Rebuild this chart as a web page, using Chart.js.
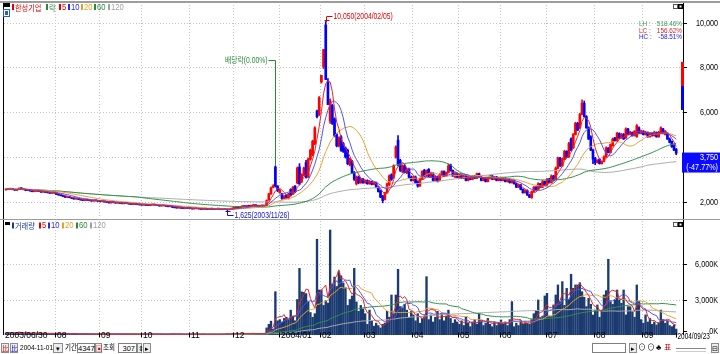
<!DOCTYPE html>
<html>
<head>
<meta charset="utf-8">
<script src="https://cdn.jsdelivr.net/npm/chart.js@4.4.1/dist/chart.umd.min.js"></script>
<style>
  body { margin: 0; width: 720px; height: 354px; overflow: hidden; position: relative; background: #fff;
         font-family: "Liberation Sans", "Noto Sans CJK KR", sans-serif; }
  canvas { position: absolute; left: 0; }
  #price { top: 0; }
  #volume { top: 220px; }
  #bar { position: absolute; left: 0; top: 343px; width: 720px; height: 11px; font-size: 8px; color: #000; }
  #bar span { position: absolute; top: 0; height: 10px; line-height: 10px; white-space: nowrap; }
  #bar .t { transform: scaleX(0.82); transform-origin: left center; }
  #bar .box { border: 1px solid #7f7f7f; background: #fff; box-sizing: border-box; text-align: right; padding-right: 1px; font-size: 7.5px; }
  #bar .btn { border: 1px solid #8c8c8c; background: #ececec; box-sizing: border-box; text-align: center; font-size: 6.5px; }
</style>
</head>
<body>
<canvas id="price" width="720" height="220"></canvas>
<canvas id="volume" width="720" height="125"></canvas>
<div id="bar">
  <span class="btn" style="left:1px;width:8px;color:#c00">比</span>
  <span class="btn" style="left:10px;width:8px;color:#00c">比</span>
  <span class="t" style="left:20px">2004-11-01</span>
  <span class="btn" style="left:53px;width:10px">▾</span>
  <span class="t" style="left:65px">기간</span>
  <span class="box" style="left:77px;width:18px">4347</span>
  <span class="btn" style="left:95px;width:7px;color:#c00">▣</span>
  <span class="t" style="left:103px">조회</span>
  <span class="box" style="left:118px;width:19px">307</span>
  <span class="btn" style="left:137px;width:5px">⇕</span>
  <span class="btn" style="left:143px;width:8px">▸</span>
  <span class="box" style="left:592px;width:34px"></span>
  <span class="btn" style="left:629px;width:8px">▸</span>
  <span style="left:638px">⊙</span>
  <span style="left:647px">⊙</span>
  <span style="left:656px">♣</span>
  <span style="left:664px;color:#c00">표</span>
  <span style="left:676px;width:30px;top:5px;height:2px;border-top:1px solid #888;border-bottom:1px solid #ccc"></span>
  <span class="btn" style="left:711px;width:8px">⊟</span>
</div>
<script>
// daily candles, 2003/06/30 .. 2004/09/23 (307 sessions)
const open = [
  2530,
  2550,2560,2590,2540,2510,2550,2610,2580,2550,2500,2530,2480,2450,2470,2510,2460,2430,2450,2420,2400,2380,2410,
  2380,2330,2290,2270,2240,2200,2220,2180,2150,2120,2140,2110,2080,2060,2090,2070,2050,2030,2060,2040,
  2020,2000,2020,1990,1960,1950,1980,1960,1940,1950,1930,1910,1940,1920,1900,1880,1910,1890,1870,
  1860,1850,1870,1840,1830,1860,1880,1850,1830,1810,1840,1820,1800,1780,1800,1750,1730,1720,1740,1710,1700,1730,
  1710,1700,1680,1710,1690,1680,1660,1690,1670,1660,1690,1670,1660,1680,1670,1650,1680,1660,1640,1670,
  1700,1720,1760,1740,1780,1800,1780,1820,1800,1830,1850,1820,1800,1830,1810,1830,2080,2350,2650,3550,2700,
  2400,2350,2150,2300,2150,2550,2350,2700,2850,3550,2900,3200,3750,3100,3900,4100,4600,6050,5900,
  7350,8040,9900,7370,5600,6300,5700,5000,4500,4900,4600,4400,4300,3650,3800,3300,2800,3100,2850,3000,
  2850,2950,2800,2900,2780,2850,2650,2500,2250,2100,2400,2750,3200,3100,4000,4750,3850,3350,3600,3300,3450,3100,
  2950,3100,2900,2700,3000,3400,3150,3450,3100,3250,2950,3100,2950,3200,3350,3150,3300,3650,3400,3100,3250,
  3050,3200,3050,3150,2950,3100,3000,3150,3050,3250,3100,2950,3050,2900,3050,3150,3000,3100,2950,
  3050,2950,3050,2900,3000,2850,2950,2800,2650,2750,2550,2400,2500,2300,2180,2450,2650,2550,2800,2650,2900,
  2750,3000,2850,3150,3000,3500,3950,3600,3900,4250,4000,4800,4400,5000,5500,5300,5900,6400,5800,5300,4900,4300,
  3950,3750,3900,3700,3800,4000,4400,4200,4500,4850,4700,5050,4850,5000,4850,5250,5000,5100,4950,4900,5300,5050,
  5150,5000,5100,4900,5050,4950,5100,4900,5050,5250,5000,5050,4800,4700,4500,4350
];
const high = [
  2560,
  2580,2600,2600,2550,2560,2620,2620,2590,2560,2530,2540,2490,2480,2510,2520,2470,2460,2460,2430,2410,2420,2420,
  2390,2340,2300,2280,2250,2230,2230,2190,2160,2150,2150,2120,2090,2100,2100,2080,2060,2070,2070,2050,
  2030,2030,2030,1995,1970,1990,1990,1970,1960,1960,1940,1945,1950,1930,1910,1915,1920,1900,1880,
  1870,1880,1875,1850,1865,1890,1885,1860,1835,1850,1845,1825,1805,1820,1810,1760,1740,1750,1745,1715,1740,1735,
  1720,1705,1715,1715,1695,1685,1695,1695,1675,1695,1695,1675,1685,1685,1675,1685,1685,1665,1675,1710,
  1730,1770,1765,1785,1810,1805,1825,1825,1835,1860,1855,1825,1835,1835,1830,2080,2380,2650,2760,3600,2720,
  2560,2380,2270,2320,2380,2580,2680,2720,3550,3700,3250,3550,3850,3950,4350,4750,5350,6100,6700,
  7650,8800,10050,7500,6600,6350,5750,5050,4900,4950,4650,4450,4350,3950,3850,3350,3150,3150,3050,3050,
  2980,2980,2950,2920,2880,2880,2680,2520,2280,2420,2830,3200,3250,3650,4500,4950,3900,3650,3650,3500,3500,3150,
  3150,3150,2920,3050,3380,3450,3420,3480,3320,3300,3150,3150,3250,3380,3380,3330,3680,3680,3420,3300,3280,
  3230,3220,3180,3180,3130,3130,3180,3180,3280,3280,3120,3080,3080,3080,3180,3170,3130,3130,3080,
  3080,3080,3080,3020,3030,2980,2980,2830,2780,2780,2580,2530,2530,2330,2480,2680,2680,2850,2820,2950,2920,
  3050,3050,3200,3180,3550,4000,3980,3950,4300,4280,4650,4850,5050,5550,5550,5950,6550,6500,5850,5350,4950,4350,
  3980,3880,3920,3820,4050,4450,4420,4580,4850,4880,5100,5080,5050,5050,5300,5280,5150,5120,5180,5450,5350,5200,
  5180,5150,5120,5080,5080,5150,5120,5150,5350,5280,5180,5080,4850,4720,4550,4380
];
const low = [
  2520,
  2540,2550,2530,2500,2500,2540,2570,2530,2490,2490,2470,2440,2440,2460,2450,2420,2420,2410,2390,2370,2370,2380,
  2320,2290,2260,2230,2190,2190,2170,2140,2110,2110,2100,2070,2050,2050,2060,2040,2020,2020,2030,2010,
  1990,1990,1980,1960,1940,1940,1950,1930,1930,1920,1900,1900,1910,1890,1870,1870,1880,1860,1850,
  1840,1840,1830,1820,1820,1850,1840,1820,1800,1800,1810,1790,1770,1770,1740,1720,1710,1710,1700,1690,1690,1700,
  1690,1670,1670,1680,1670,1650,1650,1660,1650,1650,1660,1650,1650,1660,1640,1640,1650,1625,1635,1660,
  1690,1710,1730,1730,1770,1770,1770,1790,1790,1820,1810,1790,1790,1800,1800,1820,2060,2330,2620,2650,2450,
  2380,2100,2120,2150,2120,2250,2320,2400,2800,2750,2850,3150,3050,3080,3850,4050,4550,5750,5850,
  7300,7950,7460,6340,5500,5450,4900,4450,4450,4250,4200,3950,3650,3600,3250,2950,2750,2800,2820,2820,
  2820,2780,2780,2750,2750,2620,2430,2180,1950,2080,2380,2720,2950,3050,3950,3600,3350,3300,3280,3250,3050,2920,
  2920,2830,2650,2680,2980,3120,3120,3120,3080,2930,2930,2880,2930,3180,3120,3130,3280,3380,3120,3080,3080,
  3030,3030,3030,2930,2930,2980,2980,3030,3030,3080,2930,2930,2880,2880,3030,2980,2980,2930,2930,
  2930,2930,2880,2880,2830,2830,2780,2630,2630,2530,2380,2380,2280,2180,2150,2430,2530,2530,2630,2630,2730,
  2730,2830,2830,2920,2980,3480,3580,3580,3880,3980,3980,4280,4380,4980,5180,5280,5880,5780,5280,4780,4280,3700,
  3650,3730,3680,3680,3780,3980,4180,4180,4480,4680,4680,4830,4830,4780,4830,4980,4980,4930,4930,4880,5030,5030,
  4980,4980,4880,4880,4930,4930,4880,4880,5030,5030,4980,4780,4630,4430,4280,4100
];
const close = [
  2550,
  2560,2580,2540,2520,2550,2600,2580,2540,2500,2520,2480,2450,2470,2500,2460,2430,2450,2420,2400,2380,2410,2390,
  2330,2300,2270,2240,2200,2220,2180,2150,2120,2140,2110,2080,2060,2090,2070,2050,2030,2060,2040,2020,
  2000,2020,1990,1970,1950,1980,1960,1940,1950,1930,1910,1940,1920,1900,1880,1910,1890,1870,1860,
  1850,1870,1840,1830,1860,1880,1850,1830,1810,1840,1820,1800,1780,1810,1750,1730,1720,1740,1710,1700,1730,1710,
  1700,1680,1710,1690,1680,1660,1690,1670,1660,1690,1670,1660,1680,1670,1650,1680,1660,1640,1670,1700,
  1720,1760,1740,1780,1800,1780,1820,1800,1830,1850,1820,1800,1830,1810,1820,2050,2350,2620,2700,2700,2500,
  2500,2150,2250,2200,2350,2300,2650,2450,3500,2800,3200,3500,3100,3900,4300,4700,5300,5800,6650,
  7650,8800,7460,6340,6500,5500,4950,4500,4850,4300,4250,4000,3700,3900,3300,3000,3100,2850,3000,2850,
  2950,2800,2900,2780,2850,2650,2450,2200,2050,2400,2800,3150,3000,3600,4450,3700,3400,3600,3300,3450,3100,2950,
  3100,2850,2700,3000,3350,3150,3400,3150,3300,2950,3100,2900,3200,3350,3150,3300,3600,3400,3150,3250,3100,
  3200,3050,3150,2950,3100,3000,3150,3050,3250,3100,2950,3050,2900,3050,3150,3000,3100,2950,3050,
  2950,3050,2900,3000,2850,2950,2800,2650,2750,2550,2400,2500,2300,2200,2450,2650,2550,2800,2650,2900,2750,
  3000,2850,3150,2950,3500,3950,3600,3900,4250,4000,4600,4300,5000,5500,5200,5900,6400,5800,5300,4800,4300,3900,
  3750,3850,3700,3800,4000,4400,4200,4550,4800,4700,5050,4850,5000,4800,5250,5000,5100,4950,5150,5400,5050,5150,
  5000,5100,4900,5050,4950,5100,4900,5100,5300,5050,5150,4800,4650,4450,4300,4170
];
// volume in thousands of shares
const volume = [
  180,150,220,130,110,160,250,140,100,120,150,110,90,130,170,120,100,90,130,110,100,140,120,
  160,120,110,90,140,100,80,90,110,120,80,70,90,110,80,70,60,90,70,80,
  90,110,70,80,60,70,90,60,50,70,80,60,90,70,60,50,80,60,70,
  60,80,70,50,90,110,70,60,50,80,60,50,70,90,120,80,60,50,70,60,50,80,
  70,60,90,70,50,60,80,60,50,70,60,50,70,60,80,70,60,140,90,110,
  120,140,100,130,150,110,140,100,120,150,110,90,120,100,150,600,900,1170,500,3660,1200,
  1300,1100,1400,1500,1300,2100,1600,1200,3000,5630,3650,3600,3500,2800,1900,1500,1800,8090,3800,
  3800,2500,2900,2700,8870,4300,4900,4100,5350,5000,4400,4000,2500,3000,3300,5630,2800,2000,2500,2200,
  1800,900,2100,1200,750,1000,800,600,900,1000,2000,1500,3380,1800,3380,5550,2400,2300,2600,2100,1500,2000,
  1700,1200,1800,1000,1400,1600,4930,1300,1700,1100,1500,2000,1300,1800,1200,1600,2100,1400,1000,1300,1100,
  900,1200,800,1500,1000,700,1100,1300,900,1800,1200,800,1000,1400,900,700,1100,800,1000,
  1270,900,1100,800,1300,2820,700,1000,800,1200,900,1100,1000,900,1300,1800,2000,2960,1500,1600,3300,
  3520,1600,1550,2540,3380,4230,2820,4510,2500,3940,3000,5130,3940,4230,4230,4420,3660,3190,2400,3100,2600,1690,
  2100,2540,1500,2100,3380,3750,6400,2820,2600,2960,3800,2960,2680,3800,1700,2400,2390,1970,1500,4230,2820,1300,
  1000,1700,1100,1400,900,1100,850,1000,2110,1300,1000,1200,800,700,850,500
];

const maPeriods = [5, 10, 20, 60, 120];
const maColors = ['#e02828', '#5454e8', '#eaa035', '#2f9148', '#ababab'];

const monthStarts = [23, 43, 62, 84, 104, 125, 144, 164, 186, 207, 226, 247, 269, 291];
const monthLabels = ['08', '09', '10', '11', '12', '2004/01', '02', '03', '04', '05', '06', '07', '08', '09'];
const firstDate = '2003/06/30';
const lastDate = '2004/09/23';

const priceTicks = [2000, 4000, 6000, 8000, 10000];
const volumeTicks = [0, 3000, 6000];

const peak = { idx: 146, value: 10050, text: '10,050(2004/02/05)' };
const bottom = { idx: 101, value: 1625, text: '1,625(2003/11/26)' };
const exDiv = { idx: 123, text: '배당락(0.00%)' };
const rangeStats = [['LH', '518.46%', '#3d9a5c'], ['LC', '156.62%', '#e02020'], ['HC', '-58.51%', '#1c1ce0']];
const lastBox = { value: 3750, lines: ['3,750', '(-47.77%)'] };
const sideBar = [8250, 7170, 6100];

const UP = '#ff0000';
const DOWN = '#0000ff';
const GRID = '#c4c4c4';
const NUM_FONT = '8.5px "Liberation Sans", "Noto Sans CJK KR", sans-serif';
const SMALL_FONT = '7.5px "Liberation Sans", sans-serif';
const CJK_FONT = '8px "Noto Sans CJK KR", sans-serif';
const X_MIN = -0.9;
const X_MAX = 309.1;

function movingAverage(values, period) {
  return values.map((_, i) => {
    const start = Math.max(0, i - period + 1);
    const win = values.slice(start, i + 1);
    return win.reduce((a, b) => a + b, 0) / win.length;
  });
}

function maDatasets(values) {
  return maPeriods.map((p, k) => ({
    type: 'line',
    data: movingAverage(values, p).map((v, i) => ({ x: i, y: v })),
    borderColor: maColors[k],
    borderWidth: 1,
    pointRadius: 0,
    tension: 0,
    order: 0,
  }));
}

function line(ctx, x1, y1, x2, y2) {
  ctx.beginPath();
  ctx.moveTo(x1, y1);
  ctx.lineTo(x2, y2);
  ctx.stroke();
}

// the HTS font is a narrow bitmap face, so squeeze text horizontally
function text(ctx, str, x, y, align, sx) {
  ctx.save();
  ctx.translate(x, y);
  ctx.scale(sx || 1, 1);
  ctx.textAlign = align;
  ctx.fillText(str, 0, 0);
  ctx.restore();
}

function drawLegend(ctx, items, y) {
  items.forEach(([str, color, x, font]) => {
    ctx.fillStyle = color;
    ctx.fillRect(x, y - 3, 2, 6);
    ctx.font = font;
    ctx.textBaseline = 'middle';
    text(ctx, str, x + 3, y + 0.5, 'left', 0.9);
  });
}

function drawCorner(ctx, y) {
  ctx.strokeStyle = '#555';
  ctx.lineWidth = 1;
  ctx.strokeRect(673.5, y + 0.5, 4, 4);
  ctx.fillStyle = '#000';
  ctx.fillRect(678, y, 5, 5);
  ctx.fillStyle = '#fff';
  ctx.fillRect(679.5, y + 1.5, 2, 2);
}

function drawGrid(chart, ticks) {
  const { ctx, chartArea: a, scales: { x, y } } = chart;
  ctx.save();
  ctx.strokeStyle = GRID;
  ctx.lineWidth = 1;
  ctx.setLineDash([1, 2]);
  ticks.forEach((v) => {
    if (v <= y.min) return;
    const py = Math.round(y.getPixelForValue(v)) + 0.5;
    line(ctx, a.left, py, a.right, py);
  });
  monthStarts.forEach((i) => {
    const px = Math.round(x.getPixelForValue(i - 0.5)) + 0.5;
    line(ctx, px, a.top, px, a.bottom);
  });
  ctx.restore();
}

const pricePanel = {
  id: 'pricePanel',
  beforeDatasetsDraw(chart) { drawGrid(chart, priceTicks); },
  afterDraw(chart) {
    const { ctx, chartArea: a, scales: { x, y } } = chart;
    ctx.save();
    // frame
    ctx.fillStyle = '#9c9c9c';
    ctx.fillRect(0, 1, 720, 2);
    ctx.fillRect(0, 219, 720, 2);
    ctx.strokeStyle = '#000';
    ctx.lineWidth = 1;
    line(ctx, 3.5, 3, 3.5, 219);
    line(ctx, a.right + 0.5, 3, a.right + 0.5, 219);
    // right axis
    ctx.font = NUM_FONT;
    ctx.fillStyle = '#000';
    ctx.textBaseline = 'middle';
    priceTicks.forEach((v) => {
      const py = Math.round(y.getPixelForValue(v)) + 0.5;
      line(ctx, a.right, py, a.right + 4, py);
      text(ctx, v.toLocaleString('en-US'), 718, py + 0.5, 'right', 0.85);
    });
    // side bar on the axis
    const s0 = y.getPixelForValue(sideBar[0]);
    const s1 = y.getPixelForValue(sideBar[1]);
    const s2 = y.getPixelForValue(sideBar[2]);
    ctx.fillStyle = UP;
    ctx.fillRect(a.right - 2, s0, 3, s1 - s0);
    ctx.fillStyle = DOWN;
    ctx.fillRect(a.right - 2, s1, 3, s2 - s1);
    // price box
    const by = y.getPixelForValue(lastBox.value);
    ctx.fillStyle = '#0a0aff';
    ctx.fillRect(a.right - 1, by - 10, 721 - a.right, 20);
    ctx.fillStyle = '#fff';
    text(ctx, lastBox.lines[0], 718, by - 4.5, 'right', 0.85);
    text(ctx, lastBox.lines[1], 718, by + 5, 'right', 0.85);
    // range stats
    ctx.font = SMALL_FONT;
    rangeStats.forEach(([k, v, c], n) => {
      const ty = 24 + n * 6.7;
      ctx.fillStyle = c;
      text(ctx, k + ' :', 639, ty, 'left', 0.85);
      text(ctx, v, 682, ty, 'right', 0.85);
    });
    // peak annotation
    ctx.font = NUM_FONT;
    let px = Math.round(x.getPixelForValue(peak.idx)) + 0.5;
    let py = Math.round(y.getPixelForValue(peak.value));
    ctx.strokeStyle = '#e00000';
    ctx.fillStyle = '#e00000';
    line(ctx, px, py, px, py - 5);
    line(ctx, px - 2, py - 1.5, px + 3, py - 1.5);
    line(ctx, px, py - 5.5, px + 6, py - 5.5);
    text(ctx, peak.text, px + 7, py - 5, 'left', 0.8);
    // low annotation
    px = Math.round(x.getPixelForValue(bottom.idx)) + 0.5;
    py = Math.round(y.getPixelForValue(bottom.value));
    ctx.strokeStyle = '#1010d0';
    ctx.fillStyle = '#1010d0';
    line(ctx, px, py, px, py + 5.5);
    line(ctx, px - 2, py + 1.5, px + 3, py + 1.5);
    line(ctx, px, py + 5.5, px + 6, py + 5.5);
    text(ctx, bottom.text, px + 7, py + 6, 'left', 0.8);
    // ex-dividend marker
    px = Math.round(x.getPixelForValue(exDiv.idx)) + 0.5;
    py = y.getPixelForValue(high[exDiv.idx]);
    ctx.strokeStyle = '#2a8a3a';
    ctx.fillStyle = '#2a8a3a';
    line(ctx, px, 60.5, px, py);
    line(ctx, px - 7, 60.5, px, 60.5);
    text(ctx, exDiv.text, px - 8, 60.5, 'right', 0.8);
    // legend + icons
    ctx.fillStyle = '#000';
    ctx.fillRect(3, 3, 7, 4);
    ctx.fillStyle = '#2a5cc8';
    ctx.fillRect(3, 9, 7, 8);
    ctx.strokeStyle = '#fff';
    ctx.strokeRect(4.5, 10.5, 4, 5);
    drawLegend(ctx, [
      ['한성기업', '#e00000', 12, CJK_FONT],
      ['락', '#2a8a3a', 46, CJK_FONT],
      ['5', '#e00000', 59, NUM_FONT],
      ['10', '#2a2ae0', 68, NUM_FONT],
      ['20', '#e8a020', 81, NUM_FONT],
      ['60', '#2a8a3a', 94, NUM_FONT],
      ['120', '#a0a0a0', 108, NUM_FONT],
    ], 7);
    drawCorner(ctx, 4);
    ctx.restore();
  },
};

const volumePanel = {
  id: 'volumePanel',
  beforeDatasetsDraw(chart) { drawGrid(chart, volumeTicks); },
  afterDraw(chart) {
    const { ctx, chartArea: a, scales: { x, y } } = chart;
    ctx.save();
    ctx.strokeStyle = '#000';
    ctx.lineWidth = 1;
    line(ctx, 3.5, 0, 3.5, a.bottom);
    line(ctx, a.right + 0.5, 0, a.right + 0.5, a.bottom);
    // right axis
    ctx.font = NUM_FONT;
    ctx.fillStyle = '#000';
    ctx.textBaseline = 'middle';
    volumeTicks.forEach((v) => {
      const py = Math.min(Math.round(y.getPixelForValue(v)), a.bottom - 4) + 0.5;
      line(ctx, a.right, py, a.right + 4, py);
      text(ctx, v.toLocaleString('en-US') + 'K', 718, py + 0.5, 'right', 0.85);
    });
    // date axis
    const ly = a.bottom + 0.5;
    text(ctx, firstDate, 5, ly, 'left', 1);
    monthStarts.forEach((i, k) => {
      const px = Math.round(x.getPixelForValue(i - 0.5)) + 0.5;
      line(ctx, px, ly - 3, px, ly + 2);
      text(ctx, monthLabels[k], px + 1.5, ly, 'left', 1);
    });
    const lx = Math.round(x.getPixelForValue(close.length - 1)) + 0.5;
    line(ctx, lx, ly - 3, lx, ly + 2);
    text(ctx, lastDate, lx + 1, ly + 1, 'left', 0.76);
    // legend
    ctx.fillStyle = '#000';
    ctx.fillRect(5, 2, 5, 3);
    drawLegend(ctx, [
      ['거래량', '#1a3a8a', 12, CJK_FONT],
      ['5', '#e00000', 39, NUM_FONT],
      ['10', '#2a2ae0', 48, NUM_FONT],
      ['20', '#e8a020', 62, NUM_FONT],
      ['60', '#2a8a3a', 76, NUM_FONT],
      ['120', '#a0a0a0', 90, NUM_FONT],
    ], 5.5);
    drawCorner(ctx, 2);
    ctx.restore();
  },
};

function baseOptions(padding, yMin, yMax) {
  return {
    responsive: false,
    animation: false,
    events: [],
    layout: { padding },
    plugins: { legend: { display: false }, tooltip: { enabled: false } },
    scales: {
      x: { type: 'linear', display: false, min: X_MIN, max: X_MAX, offset: false },
      y: { display: false, min: yMin, max: yMax },
    },
  };
}

const candleColors = open.map((o, i) => (close[i] >= o ? UP : DOWN));

new Chart(document.getElementById('price'), {
  type: 'bar',
  data: {
    datasets: [
      ...maDatasets(close),
      {
        data: open.map((o, i) => ({ x: i, y: [o, close[i]] })),
        backgroundColor: candleColors,
        barThickness: 2,
        minBarLength: 1,
        grouped: false,
        order: 1,
      },
      {
        data: low.map((l, i) => ({ x: i, y: [l, high[i]] })),
        backgroundColor: candleColors,
        barThickness: 1,
        grouped: false,
        order: 2,
      },
    ],
  },
  options: baseOptions({ left: 4, right: 37, top: 5, bottom: 2 }, 1272, 10791),
  plugins: [pricePanel],
});

new Chart(document.getElementById('volume'), {
  type: 'bar',
  data: {
    datasets: [
      ...maDatasets(volume),
      {
        data: volume.map((v, i) => ({ x: i, y: v })),
        backgroundColor: '#1b3a70',
        barThickness: 1.7,
        grouped: false,
        order: 1,
      },
    ],
  },
  options: baseOptions({ left: 4, right: 37, top: 1, bottom: 10 }, 0, 9634),
  plugins: [volumePanel],
});
</script>
</body>
</html>
